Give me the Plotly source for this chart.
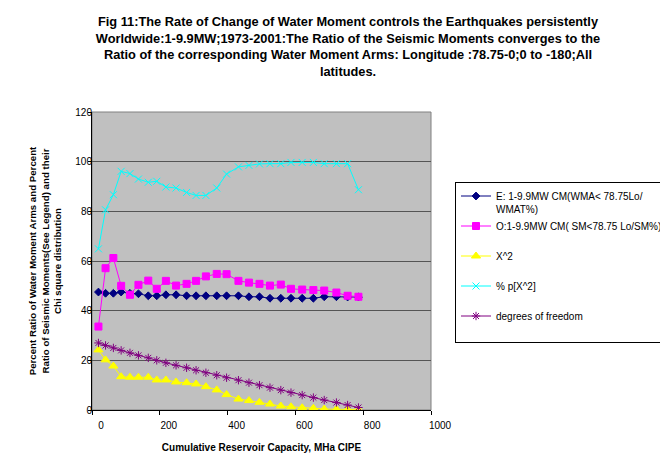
import plotly.graph_objects as go

# x positions (Cumulative Reservoir Capacity, MHa CIPE)
capacity = [19, 40, 63, 86, 112, 137, 166, 191, 218, 248, 279, 307, 336, 368,
            397, 432, 463, 494, 525, 557, 587, 620, 653, 685, 721, 754, 786]

e_wma = [47.5, 47.0, 47.0, 47.5, 47.0, 46.8, 46.0, 46.0, 46.4, 46.4, 46.0, 46.0,
         46.0, 46.0, 46.0, 46.0, 45.6, 45.6, 45.0, 45.0, 45.0, 45.0, 45.0, 45.6,
         45.6, 45.5, 45.5]
o_sm = [33.6, 57.1, 61.2, 50.0, 46.4, 50.4, 52.1, 48.8, 52.0, 50.1, 50.8, 52.0,
        53.8, 54.8, 54.7, 52.0, 51.3, 50.8, 50.1, 50.5, 48.8, 48.5, 48.3, 48.1,
        47.3, 46.0, 45.6]
chi2 = [24.2, 20.2, 17.7, 13.4, 13.2, 13.2, 13.2, 12.1, 12.1, 11.3, 11.0, 10.5,
        9.4, 8.1, 6.2, 4.4, 3.8, 3.1, 2.4, 1.6, 1.3, 0.9, 0.7, 0.4, 0.3, 0.2, 0.2]
p_chi2 = [64.9, 80.6, 86.7, 96.1, 95.2, 93.0, 91.7, 92.1, 89.8, 89.4, 87.6, 86.4,
          86.4, 89.4, 95.0, 97.9, 98.5, 99.1, 99.2, 99.2, 99.7, 99.7, 99.7, 99.2,
          99.2, 99.2, 88.7]
dof = [27, 26, 25, 24, 23, 22, 21, 20, 19, 18, 17, 16, 15, 14, 13, 12, 11, 10,
       9, 8, 7, 6, 5, 4, 3, 2, 1]

series_names = ["E: 1-9.9MW CM(WMA< 78.75Lo/<br>WMAT%)",
                "O:1-9.9MW CM( SM<78.75 Lo/SM%)<br> ",
                "X^2<br> ",
                "% p[X^2]<br> ",
                "degrees of freedom<br> "]

x_ticks = [0, 200, 400, 600, 800, 1000]
y_ticks = [0, 20, 40, 60, 80, 100, 120]

FONT = "Liberation Sans, Arial, sans-serif"

fig = go.Figure()
styles = [
    (e_wma, "#000080", "diamond", 6),
    (o_sm, "#FF00FF", "square", 7),
    (chi2, "#FFFF00", "triangle-up", 8),
    (p_chi2, "#00FFFF", "x-thin-open", 7),
    (dof, "#800080", "asterisk-open", 7),
]
for i, (vals, col, sym, sz) in enumerate(styles):
    fig.add_trace(go.Scatter(
        x=capacity, y=vals, name=series_names[i], mode="lines+markers",
        line=dict(color=col, width=1),
        marker=dict(symbol=sym, size=sz, color=col, line=dict(color=col, width=1)),
        legendgroup=f"g{i}",
    ))

fig.update_layout(
    width=668, height=470,
    margin=dict(l=84, r=245, t=104, b=68, autoexpand=False),
    paper_bgcolor="white",
    plot_bgcolor="#C0C0C0",
    font=dict(family=FONT, size=10, color="black"),
    title=dict(
        text="Fig 11:The Rate of Change of Water Moment controls the Earthquakes persistently<br>"
             "Worldwide:1-9.9MW;1973-2001:The Ratio of the Seismic Moments converges to the<br>"
             "Ratio of the corresponding Water Moment Arms: Longitude :78.75-0;0 to -180;All<br>"
             "latitudes.",
        x=(348 - 8) / 668, xanchor="center", xref="container",
        y=1 - 18 / 470, yanchor="top", yref="container",
        font=dict(family=FONT, size=12.8, color="black", weight="bold"),
    ),
    showlegend=True,
    legend=dict(
        x=(455 - 92) / 339, xanchor="left",
        y=(410 - 182) / 298, yanchor="top",
        bordercolor="black", borderwidth=1, bgcolor="white",
        font=dict(family=FONT, size=10, color="black"),
        tracegroupgap=1, valign="top",
    ),
)

fig.update_xaxes(
    range=[0, 1000], tickvals=x_ticks, ticktext=[str(v) for v in x_ticks],
    showgrid=False, zeroline=False,
    showline=True, linecolor="black", linewidth=1,
    ticks="outside", ticklen=4, tickcolor="black",
    ticklabelshift=9, ticklabelstandoff=2,
    tickfont=dict(family=FONT, size=10, color="black"),
    title=dict(text="Cumulative Reservoir Capacity, MHa CIPE", standoff=13,
               font=dict(family=FONT, size=10, color="black", weight="bold")),
    automargin=False,
)
fig.update_yaxes(
    range=[0, 120], tickvals=y_ticks, ticktext=[str(v) for v in y_ticks],
    showgrid=True, gridcolor="#555555", gridwidth=1.3, zeroline=False,
    showline=True, linecolor="black", linewidth=1,
    ticks="outside", ticklen=3, tickcolor="black",
    ticklabelstandoff=-6,
    tickfont=dict(family=FONT, size=10, color="black"),
    title=dict(text="Percent Ratio of Water Moment Arms and Percent<br>"
                    "Ratio of Seismic Moments(See Legend) and their<br>"
                    "Chi square distribution", standoff=11,
               font=dict(family=FONT, size=9.7, color="black", weight="bold")),
    automargin=False,
)

# light gray frame at top/right of plot area
fig.add_shape(type="rect", xref="paper", yref="paper", x0=0, y0=0, x1=1, y1=1,
              line=dict(color="#808080", width=1), layer="below")

fig.write_html("out.html")
